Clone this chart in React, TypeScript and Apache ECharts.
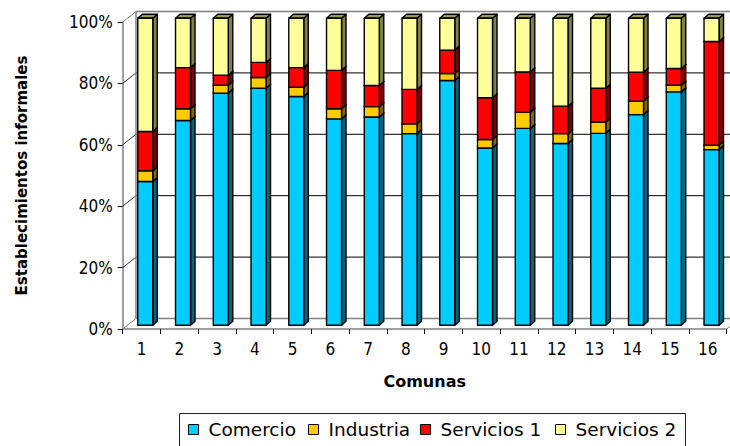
import React, { useEffect, useRef } from "react";
import * as echarts from "echarts";

const categories = ["1", "2", "3", "4", "5", "6", "7", "8", "9", "10", "11", "12", "13", "14", "15", "16"];
const comercio = [46.8, 66.7, 75.6, 77.2, 74.5, 67.2, 67.8, 62.4, 79.7, 57.7, 64.1, 59.2, 62.5, 68.6, 76.0, 57.2];
const industria = [3.5, 3.8, 2.6, 3.5, 3.0, 3.3, 3.4, 3.2, 2.3, 2.8, 5.3, 3.2, 3.7, 4.4, 2.2, 1.4];
const servicios1 = [12.8, 13.4, 3.2, 4.9, 6.4, 12.5, 6.9, 11.2, 7.6, 13.6, 13.1, 8.9, 11.0, 9.4, 5.4, 33.8];
const servicios2 = [36.9, 16.1, 18.6, 14.4, 16.1, 17.0, 21.9, 23.2, 10.4, 25.9, 17.5, 28.7, 22.8, 17.6, 16.4, 7.6];
const yTicks = [0, 20, 40, 60, 80, 100];

const seriesNames = ["Comercio", "Industria", "Servicios 1", "Servicios 2"];
const seriesValues = [comercio, industria, servicios1, servicios2];
const fronts = ["#00CCFF", "#FFCC00", "#FF0000", "#FFFF99"];
const sides = ["#006680", "#806600", "#800000", "#80804C"];
const tops = ["#008FB3", "#B38F00", "#B30000", "#99995C"];

const NARROW = "'Liberation Sans Narrow', 'DejaVu Sans Condensed', Arial, sans-serif";
const WIDE = "'DejaVu Sans', Arial, sans-serif";

export default function App() {
  const ref = useRef<HTMLDivElement>(null);
  useEffect(() => {
    if (!ref.current) return;
    const chart = echarts.init(ref.current, null, { renderer: "svg" });

    const DX = 13.3, DY = -10.5; // back wall offset
    const BX = 3.7, BY = -3.8; // bar plane offset
    const HW = 7.5; // half bar width
    const PX = 4.5, PY = -4; // bar depth

    const totals = categories.map((_, i) => seriesValues.reduce((s, arr) => s + arr[i], 0));

    const barSeries = seriesValues.map((arr, si) => {
      const data = arr.map((v, i) => {
        let base = 0;
        for (let k = 0; k < si; k++) base += seriesValues[k][i];
        return [i, (v / totals[i]) * 100, (base / totals[i]) * 100];
      });
      return {
        type: "custom",
        name: seriesNames[si],
        z: 5 + si,
        itemStyle: { color: fronts[si], borderColor: "#000", borderWidth: 1 },
        encode: { x: 0, y: 1 },
        data,
        renderItem: (params: any, api: any) => {
          const c = api.value(0);
          const val = api.value(1);
          const base = api.value(2);
          const b = api.coord([c, base]);
          const t = api.coord([c, base + val]);
          const cx = b[0] + BX;
          const L = cx - HW, R = cx + HW;
          const yb = b[1] + BY, yt = t[1] + BY;
          const stroke = { stroke: "#000", lineWidth: 1.4, lineJoin: "round" };
          return {
            type: "group",
            children: [
              {
                type: "polygon",
                shape: { points: [[R, yt], [R + PX, yt + PY], [R + PX, yb + PY], [R, yb]] },
                style: { fill: sides[si], ...stroke },
              },
              {
                type: "polygon",
                shape: { points: [[L, yt], [R, yt], [R + PX, yt + PY], [L + PX, yt + PY]] },
                style: { fill: tops[si], ...stroke },
              },
              {
                type: "rect",
                shape: { x: L, y: yt, width: R - L, height: yb - yt },
                style: { fill: fronts[si], ...stroke },
              },
            ],
          };
        },
      };
    });

    const wallSeries = {
      type: "custom",
      name: "walls",
      z: 1,
      silent: true,
      data: [[0, 0]],
      renderItem: (params: any, api: any) => {
        const cs = params.coordSys;
        const x = cs.x, y = cs.y, w = cs.width, h = cs.height;
        const children: any[] = [];
        yTicks.forEach((v) => {
          const yf = y + h * (1 - v / 100);
          const yb = yf + DY;
          const edge = v === 0 || v === 100;
          children.push({
            type: "line",
            shape: { x1: x + DX, y1: yb, x2: x + DX + w, y2: yb },
            style: { stroke: edge ? "#808080" : "#000", lineWidth: edge ? 1.5 : 1 },
          });
          children.push({
            type: "line",
            shape: { x1: x, y1: yf, x2: x + DX, y2: yb },
            style: { stroke: edge ? "#808080" : "#333", lineWidth: 1 },
          });
        });
        children.push({
          type: "line",
          shape: { x1: x + DX, y1: y + DY, x2: x + DX, y2: y + h + DY },
          style: { stroke: "#808080", lineWidth: 1.5 },
        });
        children.push({
          type: "line",
          shape: { x1: x + w, y1: y + h, x2: x + w + DX, y2: y + h + DY },
          style: { stroke: "#808080", lineWidth: 1 },
        });
        return { type: "group", children };
      },
    };

    const legendX = [188, 308, 420, 555];
    const legends = seriesNames.map((n, i) => ({
      show: true,
      data: [n],
      left: legendX[i],
      top: 420,
      padding: 0,
      itemWidth: 10,
      itemHeight: 10,
      icon: "rect",
      itemStyle: { borderColor: "#000", borderWidth: 1 },
      textStyle: { fontSize: 18.5, color: "#000", fontFamily: WIDE, padding: [0, 0, 0, 5] },
    }));

    chart.setOption({
      animation: false,
      backgroundColor: "#fff",
      grid: { left: 122.7, top: 22, width: 604, height: 307, containLabel: false },
      legend: legends,
      graphic: [
        {
          type: "rect",
          shape: { x: 179.5, y: 413.5, width: 506, height: 40 },
          style: { fill: "#fff", stroke: "#222", lineWidth: 1 },
          z: -1,
        },
      ],
      xAxis: {
        type: "category",
        data: categories,
        boundaryGap: true,
        name: "Comunas",
        nameLocation: "middle",
        nameGap: 44,
        nameTextStyle: { fontSize: 16, fontWeight: "bold", color: "#000", fontFamily: WIDE },
        axisLine: { lineStyle: { color: "#808080", width: 1.5 } },
        axisTick: { show: true, interval: 0, length: 5, lineStyle: { color: "#000" } },
        axisLabel: { fontSize: 17, color: "#000", margin: 11, fontFamily: NARROW, interval: 0 },
        splitLine: { show: false },
      },
      yAxis: {
        type: "value",
        min: 0,
        max: 100,
        interval: 20,
        name: "Establecimientos informales",
        nameLocation: "middle",
        nameRotate: 90,
        nameGap: 93,
        nameTextStyle: { fontSize: 15, fontWeight: "bold", color: "#000", fontFamily: WIDE },
        axisLine: { show: true, lineStyle: { color: "#808080", width: 1.5 } },
        axisTick: { show: true, length: 5, lineStyle: { color: "#000" } },
        axisLabel: { formatter: "{value}%", fontSize: 17, color: "#000", margin: 10, fontFamily: NARROW },
        splitLine: { show: false },
      },
      series: [wallSeries, ...barSeries],
    });
    return () => chart.dispose();
  }, []);
  return (
    <div
      ref={ref}
      style={{ position: "fixed", left: 0, top: 0, width: 730, height: 446, background: "#fff" }}
    />
  );
}
